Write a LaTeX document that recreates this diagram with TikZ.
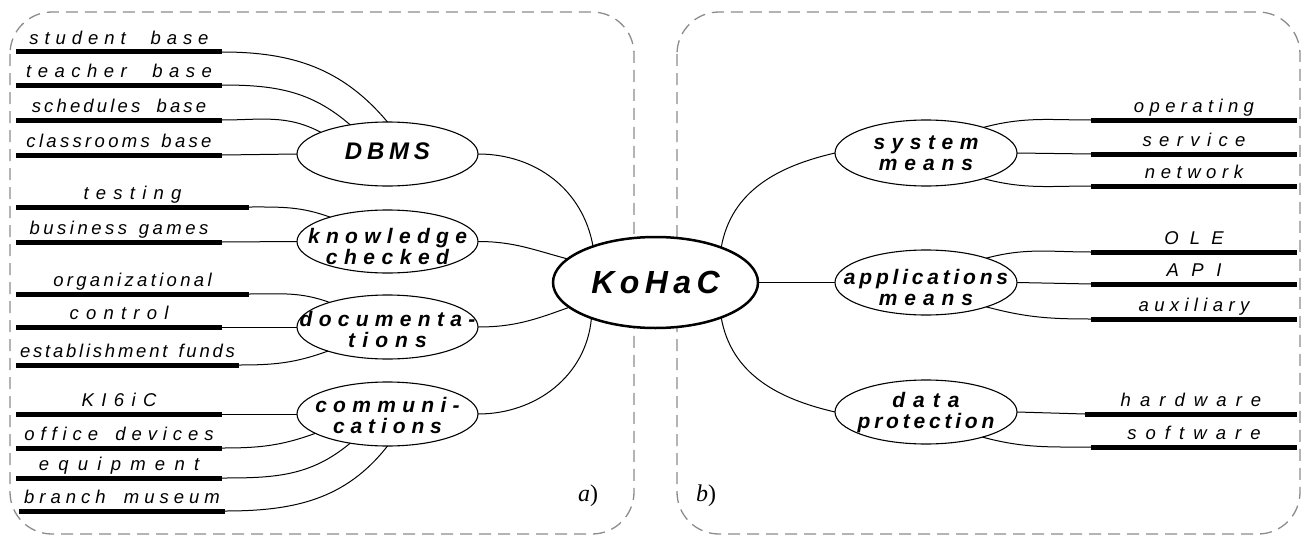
\documentclass[tikz,border=0pt]{standalone}
\usepackage{fontspec}
\setmainfont{Liberation Sans}
\newfontfamily\serifface{Liberation Serif}
\usetikzlibrary{shapes.geometric}

% letter-spaced text: #1 = word space, #2 = tracking in percent of the font size
\newcommand\tracked[3][0.278em]{{\addfontfeatures{LetterSpace=#2}\spaceskip=#1\relax #3}}

% a leaf: thick bar with its caption above
% #1 name, #2 x, #3 y, #4 bar length, #5 tracking, #6 word space, #7 caption
\newcommand\leaf[7]{%
  \node[leafbar, minimum width=#4pt] (#1) at (#2,#3) {};
  \node[leaftext] (#1-t) at ([yshift=5pt]#1.north) {\tracked[#6]{#5}{#7}};}

\tikzset{
  leafbar/.style={fill=black, draw=none, anchor=west, minimum height=5pt, inner sep=0pt, outer sep=0pt},
  leaftext/.style={anchor=base, inner sep=0pt, font=\fontsize{18.5}{20}\selectfont\itshape},
  oval/.style={ellipse, draw, line width=1.1pt, inner sep=0pt, outer sep=0pt, fill=white},
  hub/.style={oval, line width=2.5pt},
  ovaltext/.style={align=center, inner sep=0pt, font=\fontsize{21}{21}\selectfont\bfseries\itshape},
  link/.style={draw, line width=1pt},
  frame/.style={draw={rgb,255:red,140;green,140;blue,140}, line width=1.3pt,
                dash pattern=on 12pt off 7pt, rounded corners=42pt},
  tag/.style={anchor=base west, inner sep=0pt, font=\serifface\fontsize{24}{24}\selectfont}
}

\begin{document}
\begin{tikzpicture}[x=1pt, y=1pt]
\useasboundingbox (0,0) rectangle (1303,-535);

% dashed panels
\draw[frame] (10,-12) rectangle (634,-534);
\draw[frame] (677,-12) rectangle (1300,-534);

% left leaves
\leaf{sb}{16}{-52}{206}{32}{1.35em}{student base}
\leaf{tb}{16}{-85}{206}{35}{1.38em}{teacher base}
\leaf{scb}{16}{-120}{206}{17}{0.88em}{schedules base}
\leaf{cb}{16}{-155}{206}{18}{0.62em}{classrooms base}
\leaf{te}{16}{-207}{233}{39}{0.3em}{testing}
\leaf{bg}{16}{-242}{206}{19}{0.63em}{business games}
\leaf{org}{16}{-294}{233}{18}{0.3em}{organizational}
\leaf{ctl}{16}{-327}{206}{39}{0.3em}{control}
\leaf{ef}{16}{-365}{223}{15}{0.6em}{establishment funds}
\leaf{ki}{16}{-414}{206}{40}{0.3em}{KI6iC}
\leaf{od}{16}{-448}{206}{32}{0.93em}{office devices}
\leaf{eq}{16}{-478}{206}{50}{0.3em}{equipment}
\leaf{bm}{19}{-511}{206}{27}{0.99em}{branch museum}

% right leaves
\leaf{op}{1091}{-120}{206}{29}{0.3em}{operating}
\leaf{sv}{1091}{-154}{206}{40}{0.3em}{service}
\leaf{nw}{1091}{-186}{206}{30}{0.3em}{network}
\leaf{ole}{1091}{-252}{206}{60}{0.3em}{OLE}
\leaf{api}{1091}{-284}{206}{68}{0.3em}{API}
\leaf{aux}{1091}{-319}{206}{29}{0.3em}{auxiliary}
\leaf{hw}{1085}{-414}{212}{49}{0.3em}{hardware}
\leaf{sw}{1091}{-447}{206}{49}{0.3em}{software}

% ovals
\node[oval, minimum width=181pt, minimum height=64pt] (dbms) at (387.5,-154) {};
\node[oval, minimum width=181pt, minimum height=63pt] (kc) at (387.5,-241.5) {};
\node[oval, minimum width=181pt, minimum height=64pt] (doc) at (387.5,-327) {};
\node[oval, minimum width=181pt, minimum height=64pt] (comm) at (387.5,-414) {};
\node[hub, minimum width=205pt, minimum height=91pt] (kohac) at (655.5,-282.5) {};
\node[oval, minimum width=182pt, minimum height=66pt] (sys) at (926,-153) {};
\node[oval, minimum width=182pt, minimum height=65pt] (app) at (926,-282.5) {};
\node[oval, minimum width=182pt, minimum height=64pt] (dp) at (926,-412) {};

% oval captions
\node[ovaltext, font=\fontsize{24}{24}\selectfont\bfseries\itshape] (dbms-t) at ([yshift=3pt]dbms.center) {\tracked{20}{DBMS}};
\node[ovaltext] (kc-t) at ([yshift=-5pt]kc.center) {\tracked{30}{knowledge}\\\tracked{31}{checked}};
\node[ovaltext] (doc-t) at ([yshift=-2pt]doc.center) {\tracked{30}{documenta-}\\\tracked{34}{tions}};
\node[ovaltext] (comm-t) at ([yshift=-1.5pt]comm.center) {\tracked{30}{communi-}\\\tracked{28}{cations}};
\node[ovaltext, font=\fontsize{32}{32}\selectfont\bfseries\itshape] (kohac-t) at (kohac.center) {\tracked{17}{KoHaC}};
\node[ovaltext] (sys-t) at (sys.center) {\tracked{31}{system}\\\tracked{33}{means}};
\node[ovaltext] (app-t) at ([yshift=-5pt]app.center) {\tracked{18}{applications}\\\tracked{33}{means}};
\node[ovaltext] (dp-t) at ([yshift=-1pt]dp.center) {\tracked{38}{data}\\\tracked{18}{protection}};

% connectors, left side
\draw[link] (sb.east) to[out=0,in=130] (dbms.north);
\draw[link] (tb.east) to[out=0,in=139] (dbms.142);
\draw[link] (scb.east) to[out=0,in=152] (dbms.162);
\draw[link] (cb.east) -- (dbms.west);
\draw[link] (te.east) to[out=0,in=160] (kc.157);
\draw[link] (bg.east) -- (kc.west);
\draw[link] (org.east) to[out=0,in=160] (doc.157);
\draw[link] (ctl.east) -- (doc.west);
\draw[link] (ef.east) to[out=0,in=200] (doc.202);
\draw[link] (ki.east) -- (comm.west);
\draw[link] (od.east) to[out=0,in=200] (comm.195);
\draw[link] (eq.east) to[out=0,in=220] (comm.218);
\draw[link] (bm.east) to[out=0,in=232] (comm.south);

% connectors to the hub
\draw[link] (dbms.east) to[out=0,in=100] (kohac.150);
\draw[link] (kc.east) to[out=0,in=165] (kohac.165);
\draw[link] (doc.east) to[out=0,in=200] (kohac.196);
\draw[link] (comm.east) to[out=0,in=265] (kohac.209);
\draw[link] (kohac.28) to[out=80,in=193] (sys.west);
\draw[link] (kohac.east) -- (app.west);
\draw[link] (kohac.-28) to[out=-80,in=167] (dp.west);

% connectors, right side
\draw[link] (sys.24) to[out=15,in=180] (op.west);
\draw[link] (sys.east) -- (sv.west);
\draw[link] (sys.-24) to[out=-15,in=180] (nw.west);
\draw[link] (app.22) to[out=15,in=180] (ole.west);
\draw[link] (app.east) -- (api.west);
\draw[link] (app.-22) to[out=-15,in=180] (aux.west);
\draw[link] (dp.east) -- (hw.west);
\draw[link] (dp.-24) to[out=-15,in=180] (sw.west);

% panel tags
\node[tag] (tag-a) at (578,-501) {\textit{a})};
\node[tag] (tag-b) at (696,-501) {\textit{b})};
\end{tikzpicture}
\end{document}
